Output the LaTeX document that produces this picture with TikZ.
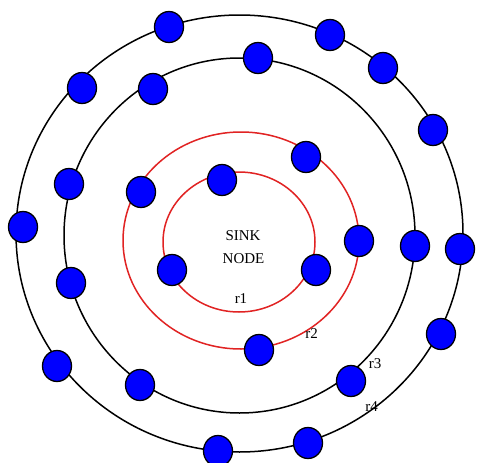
\documentclass[tikz,border=0pt]{standalone}
\usepackage{fontspec}
\setmainfont{Liberation Serif}
\usetikzlibrary{shapes.geometric}
\definecolor{ringred}{RGB}{225,35,35}
\definecolor{sensorblue}{RGB}{0,0,255}
\begin{document}
\begin{tikzpicture}[x=1pt,y=-1pt,
  blackring/.style={draw=black, line width=1.5pt},
  redring/.style={draw=ringred, line width=1.5pt},
  sensor/.style={ellipse, draw=black, line width=1.3pt, fill=sensorblue,
    minimum width=29pt, minimum height=31pt, inner sep=0pt},
  lbl/.style={font=\fontsize{15}{18}\selectfont, inner sep=0pt, anchor=base}]
\useasboundingbox (0,0) rectangle (477,463);
\fill[white] (0,0) rectangle (477,463);
% rings
\draw[blackring] (239.5,233.5) ellipse [x radius=223.5pt, y radius=218.5pt];
\draw[blackring] (239.5,235.5) ellipse [x radius=175.5pt, y radius=177.5pt];
\draw[redring] (241,240.5) ellipse [x radius=118pt, y radius=108.5pt];
\draw[redring] (239,242) ellipse [x radius=76pt, y radius=70pt];
% texts
\node[lbl] (sink) at (243,240) {SINK};
\node[lbl] (nodetxt) at (243.5,263) {NODE};
\node[lbl] (r1) at (241,303) {r1};
\node[lbl] (r2) at (311.5,338) {r2};
\node[lbl] (r3) at (375,368) {r3};
\node[lbl] (r4) at (371.5,411) {r4};
% sensor nodes
\node[sensor] (n1) at (169,27) {};
\node[sensor] (n2) at (258,58) {};
\node[sensor] (n3) at (330,35) {};
\node[sensor] (n4) at (383,68) {};
\node[sensor] (n5) at (153,89) {};
\node[sensor] (n6) at (82,88) {};
\node[sensor] (n7) at (433,130) {};
\node[sensor] (n8) at (306,157) {};
\node[sensor] (n9) at (222,180) {};
\node[sensor] (n10) at (141,192) {};
\node[sensor] (n11) at (69,184) {};
\node[sensor] (n12) at (23,227) {};
\node[sensor] (n13) at (359,241) {};
\node[sensor] (n14) at (415,246) {};
\node[sensor] (n15) at (460,249) {};
\node[sensor] (n16) at (172,270) {};
\node[sensor] (n17) at (316,270) {};
\node[sensor] (n18) at (71,283) {};
\node[sensor] (n19) at (259,350) {};
\node[sensor] (n20) at (57,366) {};
\node[sensor] (n21) at (140,385) {};
\node[sensor] (n22) at (441,334) {};
\node[sensor] (n23) at (351,381) {};
\node[sensor] (n24) at (218,451) {};
\node[sensor] (n25) at (308,443) {};
\end{tikzpicture}
\end{document}
